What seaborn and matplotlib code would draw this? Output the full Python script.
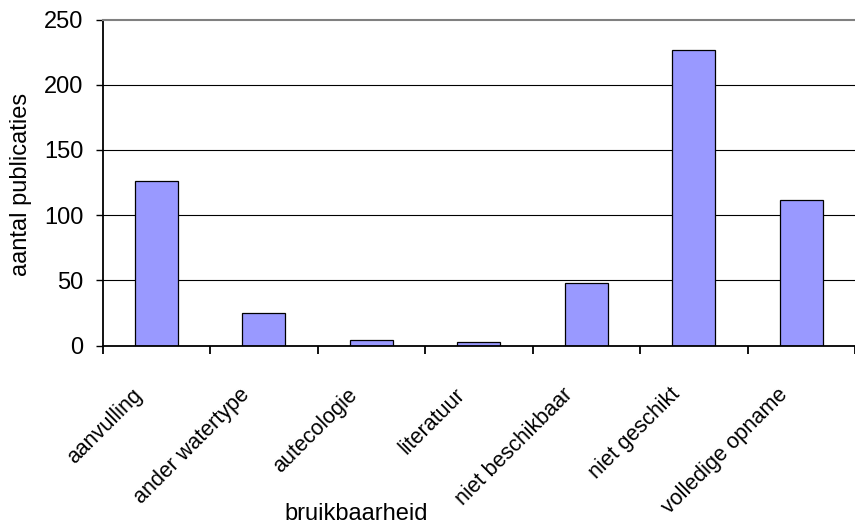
import numpy as np
import pandas as pd
import matplotlib
matplotlib.use("Agg")
import matplotlib.pyplot as plt
import matplotlib.transforms as mtransforms
import seaborn as sns

# data
categories = ["aanvulling", "ander watertype", "autecologie", "literatuur",
              "niet beschikbaar", "niet geschikt", "volledige opname"]
counts = [126, 25, 4, 3, 48, 227, 112]
y_ticks = [0, 50, 100, 150, 200, 250]

sns.set_style("white")
plt.rcParams["font.family"] = ["Liberation Sans", "DejaVu Sans"]
plt.rcParams["text.color"] = "black"
plt.rcParams["xtick.color"] = "black"
plt.rcParams["ytick.color"] = "black"

df = pd.DataFrame({"bruikbaarheid": categories, "aantal": counts})

fig = plt.figure(figsize=(8.55, 5.26), dpi=100)
ax = fig.add_axes([102.7 / 855, 180.3 / 526, (855 - 102.7) / 855, 326.2 / 526])

sns.barplot(data=df, x="bruikbaarheid", y="aantal", color="#9999FF",
            width=0.4, edgecolor="black", linewidth=0.9, saturation=1, ax=ax)

ax.set_xlim(-0.5, 6.5)
ax.set_ylim(0, 250)
ax.set_yticks(y_ticks)
ax.set_yticklabels([str(v) for v in y_ticks], fontsize=17, color="black")
ax.tick_params(axis="y", direction="out", length=5, width=1, pad=9, left=True,
               colors="black")

# gridlines (top one replaced by the grey border)
ax.yaxis.grid(True, color="black", linewidth=0.8)
ax.set_axisbelow(True)
ax.get_ygridlines()[-1].set_visible(False)

# category boundary ticks, labels drawn separately
ax.set_xticks(np.arange(-0.5, 7, 1))
ax.set_xticklabels([])
ax.tick_params(axis="x", direction="out", length=6, width=1.3, bottom=True,
               colors="black")

for side in ["left", "bottom"]:
    ax.spines[side].set_color("black")
    ax.spines[side].set_linewidth(1.3)
ax.spines["right"].set_visible(False)
ax.spines["top"].set_color("#808080")
ax.spines["top"].set_linewidth(1.5)

ax.set_xlabel("")
ax.set_ylabel("")

# rotated category labels
offset = mtransforms.ScaledTranslation(-0.17, -0.46, fig.dpi_scale_trans)
for i, cat in enumerate(categories):
    ax.text(i, 0, cat, transform=ax.get_xaxis_transform() + offset,
            rotation=45, ha="right", va="center", rotation_mode="anchor",
            fontsize=15.5, color="black")

fig.text(21 / 855, 1 - 184 / 526, "aantal publicaties", rotation=90,
         ha="center", va="center", fontsize=17, color="black")
fig.text(356 / 855, 1 - 520 / 526, "bruikbaarheid", ha="center",
         va="baseline", fontsize=17, color="black")

fig.savefig("out.png", dpi=100)
